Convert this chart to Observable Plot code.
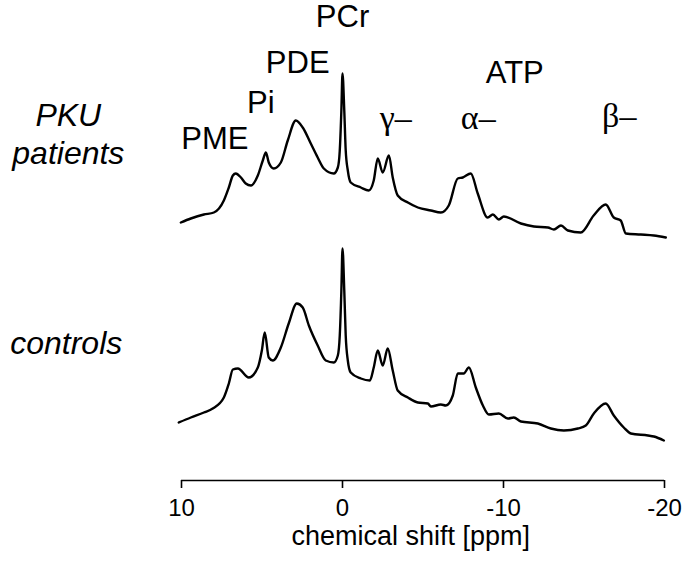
<!DOCTYPE html>
<html>
<head>
<meta charset="utf-8">
<script src="https://cdn.jsdelivr.net/npm/d3@7"></script>
<script src="https://cdn.jsdelivr.net/npm/@observablehq/plot@0.6"></script>
<style>
  body { margin: 0; background: #fff; }
  #chart svg { display: block; }
</style>
</head>
<body>
<div id="chart"></div>
<script>
// 31P MR spectra, chemical shift in ppm, signal in arbitrary units
const patientsPpm = [10.04, 9.42, 8.61, 7.99, 7.37, 7.06, 6.81, 6.63, 6.31, 6.01, 5.69, 5.26, 4.95, 4.76, 4.58, 4.27, 3.83, 3.40, 2.90, 2.47, 1.97, 1.54, 1.16, 0.54, 0.29, 0.17, 0.07, 0, -0.11, -0.20, -0.33, -0.51, -1.14, -1.63, -1.94, -2.19, -2.50, -2.88, -3.12, -3.43, -4.06, -4.68, -5.49, -6.11, -6.60, -7.16, -7.47, -7.97, -8.40, -9.02, -9.34, -9.71, -10.02, -11.08, -11.89, -12.76, -13.13, -13.57, -14.0, -14.8, -15.6, -16.35, -16.85, -17.28, -17.6, -18.53, -19.34, -20.08];
const patientsSignal = [23, 27, 31, 33, 45, 58, 70, 72, 68, 62, 60, 70, 85, 93, 83, 77, 83, 105, 125, 118, 102, 88, 77, 72, 78, 95, 135, 172, 135, 95, 75, 63, 58, 55, 65, 87, 73, 90, 68, 50, 43, 38, 35, 33, 40, 67, 68, 72, 52, 28, 31, 26, 29, 22, 19, 18, 16, 20, 15, 13, 30, 41, 28, 25, 12, 11, 10, 8];

const controlsPpm = [10.17, 9.42, 8.61, 8.06, 7.37, 7.06, 6.81, 6.50, 5.82, 5.26, 5.01, 4.83, 4.58, 4.33, 3.83, 3.34, 2.84, 2.47, 2.09, 1.54, 1.04, 0.54, 0.29, 0.17, 0.07, 0, -0.11, -0.20, -0.33, -0.51, -1.14, -1.70, -1.94, -2.19, -2.50, -2.81, -3.12, -3.43, -4.06, -4.68, -5.30, -5.49, -6.11, -6.42, -6.85, -7.16, -7.53, -7.85, -8.28, -8.72, -9.09, -9.71, -10.27, -10.64, -11.08, -12.13, -12.94, -13.75, -14.62, -15.11, -15.61, -16.35, -16.85, -17.47, -17.91, -18.97, -19.34, -19.96];
const controlsSignal = [23, 28, 33, 37, 48, 62, 76, 77, 68, 78, 95, 113, 88, 85, 98, 122, 142, 138, 120, 100, 85, 83, 90, 110, 155, 197, 155, 110, 85, 73, 67, 65, 78, 95, 80, 97, 75, 55, 48, 43, 42, 39, 41, 40, 50, 72, 72, 78, 58, 40, 31, 32, 27, 28, 24, 22, 17, 15, 17, 20, 32, 42, 30, 18, 12, 10, 9, 5];

// axis ticks
const tickValues = [10, 0, -10, -20];
const axisTitle = "chemical shift [ppm]";

// peak annotations (ppm, level in plot units)
const peakLabels = ["PCr", "PDE", "Pi", "PME", "ATP"];
const peakLabelPpm = [0, 2.78, 5.07, 7.93, -10.7];
const peakLabelLevel = [428, 382, 342, 306, 372];

const atpLabels = ["γ–", "α–", "β–"];
const atpLabelPpm = [-3.31, -8.43, -17.19];
const atpLabelLevel = [327, 327, 329];

const groupLabels = ["PKU", "patients", "controls"];
const groupLabelPpm = [17.03, 17.03, 17.16];
const groupLabelLevel = [330, 292, 102];

const patientsOffset = 200;
const yMin = -35, yMax = 445;

const patients = patientsPpm.map((p, i) => ({ppm: p, v: patientsSignal[i] + patientsOffset}));
const controls = controlsPpm.map((p, i) => ({ppm: p, v: controlsSignal[i]}));
const peaks = peakLabels.map((t, i) => ({t, x: peakLabelPpm[i], y: peakLabelLevel[i]}));
const atp = atpLabels.map((t, i) => ({t, x: atpLabelPpm[i], y: atpLabelLevel[i]}));
const groups = groupLabels.map((t, i) => ({t, x: groupLabelPpm[i], y: groupLabelLevel[i]}));
const title = [{t: axisTitle, x: -4.24, y: -91}];

const sans = "'Liberation Sans', Arial, Helvetica, sans-serif";

const chart = Plot.plot({
  width: 685,
  height: 562,
  marginLeft: 181,
  marginRight: 21,
  marginTop: 0,
  marginBottom: 82,
  style: {fontFamily: sans, color: "#000", background: "#fff", overflow: "visible"},
  x: {domain: [10, -20], axis: null},
  y: {domain: [yMin, yMax], axis: null},
  marks: [
    Plot.ruleY([yMin], {stroke: "#000", strokeWidth: 1.6}),
    Plot.axisX({ticks: tickValues, tickSize: 8, tickPadding: 10, fontSize: 24, label: null,
                tickFormat: d => String(d), stroke: "#000", strokeWidth: 1.6, fill: "#000"}),
    Plot.line(patients, {x: "ppm", y: "v", curve: "monotone-x", stroke: "#000", strokeWidth: 2.4, strokeLinejoin: "round"}),
    Plot.line(controls, {x: "ppm", y: "v", curve: "monotone-x", stroke: "#000", strokeWidth: 2.4, strokeLinejoin: "round"}),
    Plot.text(peaks, {x: "x", y: "y", text: "t", fontSize: 31, fontFamily: sans, fill: "#000"}),
    Plot.text(atp, {x: "x", y: "y", text: "t", fontSize: 34, fontFamily: "'Liberation Serif', 'Times New Roman', serif", fill: "#000"}),
    Plot.text(groups, {x: "x", y: "y", text: "t", fontSize: 32, fontStyle: "italic", fontFamily: sans, fill: "#000"}),
    Plot.text(title, {x: "x", y: "y", text: "t", fontSize: 27, fontFamily: sans, fill: "#000"})
  ]
});
document.getElementById("chart").appendChild(chart);
</script>
</body>
</html>
